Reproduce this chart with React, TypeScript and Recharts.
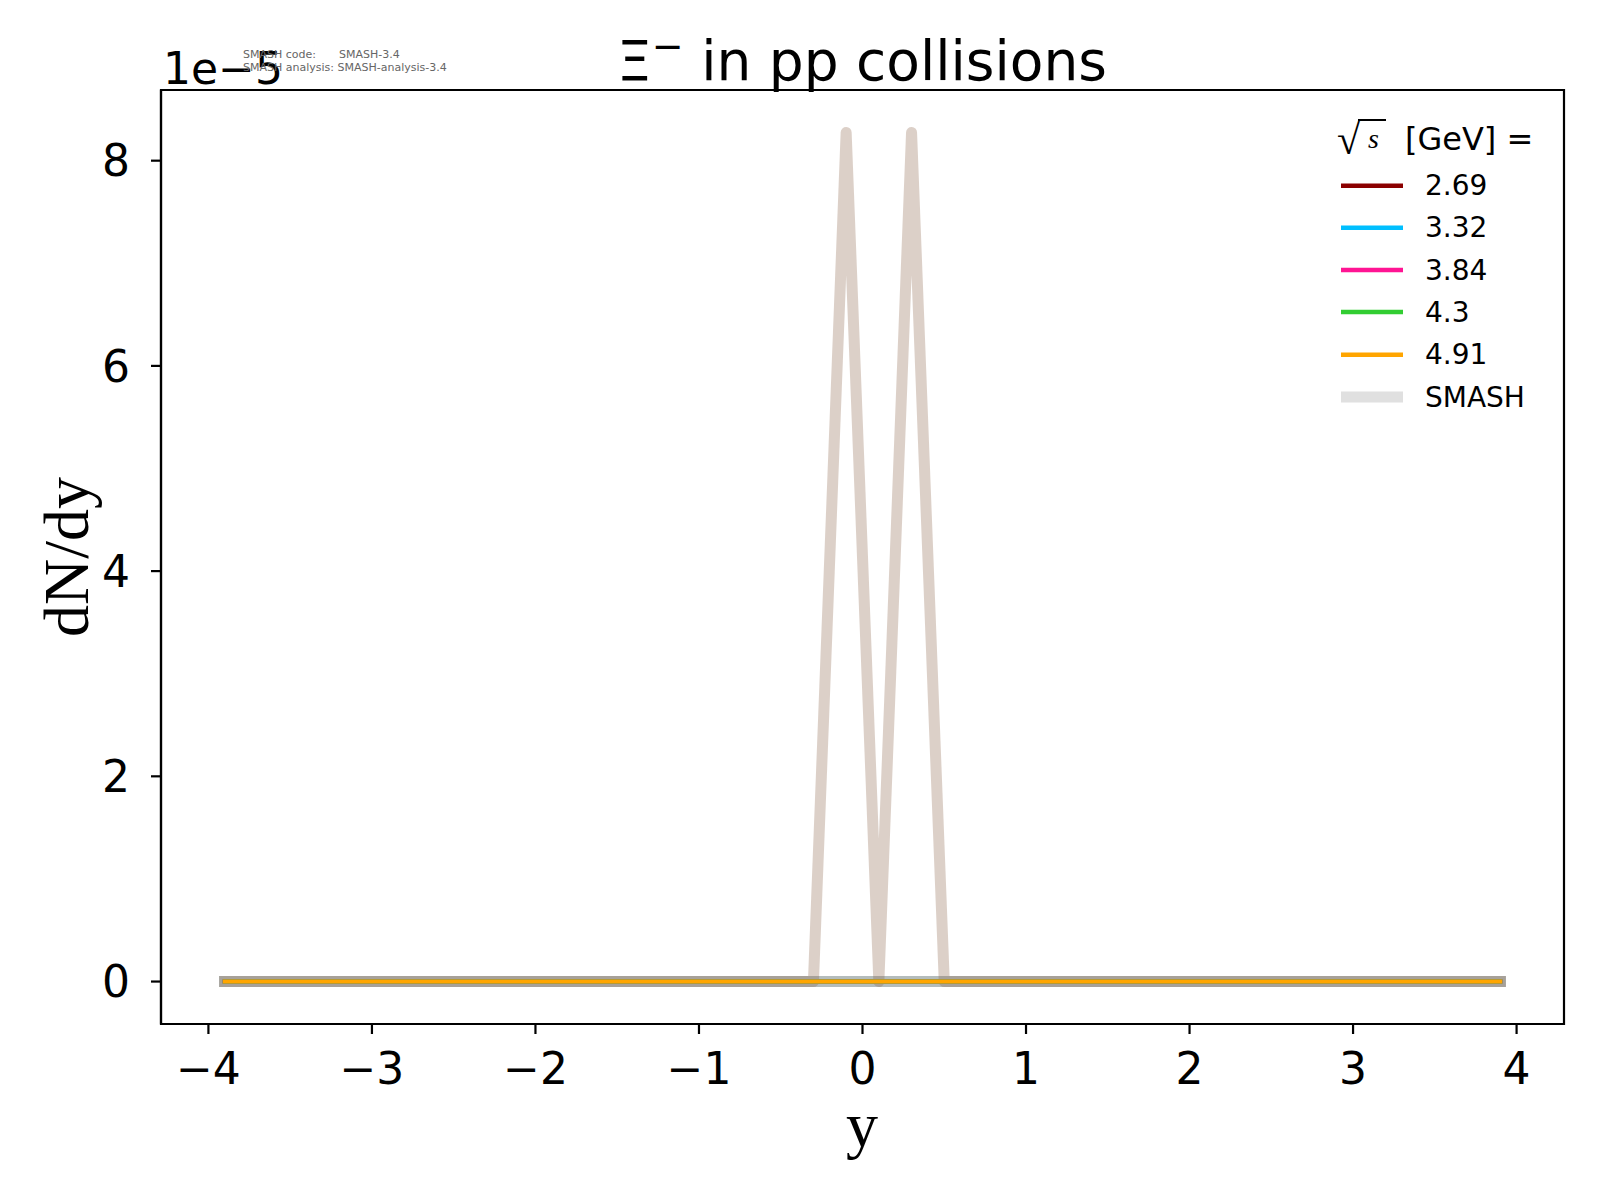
import React from "react";
import { LineChart, Line, XAxis, YAxis, ReferenceArea } from "recharts";

// rapidity bin centres
const Y_BINS = [-3.9, -3.7, -3.5, -3.3, -3.1, -2.9, -2.7, -2.5, -2.3, -2.1, -1.9, -1.7, -1.5, -1.3, -1.1, -0.9, -0.7, -0.5, -0.3, -0.1, 0.1, 0.3, 0.5, 0.7, 0.9, 1.1, 1.3, 1.5, 1.7, 1.9, 2.1, 2.3, 2.5, 2.7, 2.9, 3.1, 3.3, 3.5, 3.7, 3.9];

// SMASH dN/dy per energy
const SMASH_269 = [0, 0, 0, 0, 0, 0, 0, 0, 0, 0, 0, 0, 0, 0, 0, 0, 0, 0, 0, 0, 0, 0, 0, 0, 0, 0, 0, 0, 0, 0, 0, 0, 0, 0, 0, 0, 0, 0, 0, 0];
const SMASH_332 = [0, 0, 0, 0, 0, 0, 0, 0, 0, 0, 0, 0, 0, 0, 0, 0, 0, 0, 0, 0, 0, 0, 0, 0, 0, 0, 0, 0, 0, 0, 0, 0, 0, 0, 0, 0, 0, 0, 0, 0];
const SMASH_384 = [0, 0, 0, 0, 0, 0, 0, 0, 0, 0, 0, 0, 0, 0, 0, 0, 0, 0, 0, 0, 0, 0, 0, 0, 0, 0, 0, 0, 0, 0, 0, 0, 0, 0, 0, 0, 0, 0, 0, 0];
const SMASH_430 = [0, 0, 0, 0, 0, 0, 0, 0, 0, 0, 0, 0, 0, 0, 0, 0, 0, 0, 0, 0, 0, 0, 0, 0, 0, 0, 0, 0, 0, 0, 0, 0, 0, 0, 0, 0, 0, 0, 0, 0];
const SMASH_491 = [0, 0, 0, 0, 0, 0, 0, 0, 0, 0, 0, 0, 0, 0, 0, 0, 0, 0, 0, 8.275e-5, 0, 8.275e-5, 0, 0, 0, 0, 0, 0, 0, 0, 0, 0, 0, 0, 0, 0, 0, 0, 0, 0];

// reference (experimental) dN/dy per energy
const EXP_269 = [0, 0, 0, 0, 0, 0, 0, 0, 0, 0, 0, 0, 0, 0, 0, 0, 0, 0, 0, 0, 0, 0, 0, 0, 0, 0, 0, 0, 0, 0, 0, 0, 0, 0, 0, 0, 0, 0, 0, 0];
const EXP_332 = [0, 0, 0, 0, 0, 0, 0, 0, 0, 0, 0, 0, 0, 0, 0, 0, 0, 0, 0, 0, 0, 0, 0, 0, 0, 0, 0, 0, 0, 0, 0, 0, 0, 0, 0, 0, 0, 0, 0, 0];
const EXP_384 = [0, 0, 0, 0, 0, 0, 0, 0, 0, 0, 0, 0, 0, 0, 0, 0, 0, 0, 0, 0, 0, 0, 0, 0, 0, 0, 0, 0, 0, 0, 0, 0, 0, 0, 0, 0, 0, 0, 0, 0];
const EXP_430 = [0, 0, 0, 0, 0, 0, 0, 0, 0, 0, 0, 0, 0, 0, 0, 0, 0, 0, 0, 0, 0, 0, 0, 0, 0, 0, 0, 0, 0, 0, 0, 0, 0, 0, 0, 0, 0, 0, 0, 0];
const EXP_491 = [0, 0, 0, 0, 0, 0, 0, 0, 0, 0, 0, 0, 0, 0, 0, 0, 0, 0, 0, 0, 0, 0, 0, 0, 0, 0, 0, 0, 0, 0, 0, 0, 0, 0, 0, 0, 0, 0, 0, 0];

const ENERGY_LABELS = ["2.69", "3.32", "3.84", "4.3", "4.91"];
const ENERGY_COLORS = ["#8b0000", "#00bfff", "#ff1493", "#32cd32", "#ffa500"];
const X_TICKS = [-4, -3, -2, -1, 0, 1, 2, 3, 4];
const Y_TICKS = [0, 2e-5, 4e-5, 6e-5, 8e-5];
const X_DOMAIN = [-4.29, 4.29];
const Y_DOMAIN = [-0.41375e-5, 8.68875e-5];

const data = Y_BINS.map((y, i) => ({
  y,
  s269: SMASH_269[i],
  s332: SMASH_332[i],
  s384: SMASH_384[i],
  s430: SMASH_430[i],
  s491: SMASH_491[i],
  e269: EXP_269[i],
  e332: EXP_332[i],
  e384: EXP_384[i],
  e430: EXP_430[i],
  e491: EXP_491[i],
}));

const W = 1584;
const H = 1184;
const SANS = "DejaVu Sans";
const SERIF = "Liberation Serif";
const axisStyle = { stroke: "#000", strokeWidth: 2.2 };
const tickStyle = { fontSize: 44, fill: "#000", fontFamily: SANS };

const fmtX = (v: number) => (v < 0 ? "\u2212" + Math.abs(v) : String(v));
const fmtY = (v: number) => String(Math.round(v / 1e-5));

export default function App() {
  const smashZeroKeys = ["s269", "s332", "s384", "s430"];
  const expKeys = ["e269", "e332", "e384", "e430", "e491"];
  const rowY = [177.7, 219.7, 262, 304, 346.7];
  return (
    <div style={{ position: "relative", width: W, height: H, background: "#fff" }}>
      <LineChart
        width={W}
        height={H}
        data={data}
        margin={{ top: 82, right: 28, bottom: 108, left: 73 }}
      >
        <XAxis
          dataKey="y"
          type="number"
          domain={X_DOMAIN}
          ticks={X_TICKS}
          tickFormatter={fmtX}
          height={60}
          tickSize={10}
          tickMargin={19}
          axisLine={axisStyle}
          tickLine={axisStyle}
          tick={tickStyle}
          allowDataOverflow
        />
        <YAxis
          type="number"
          domain={Y_DOMAIN}
          ticks={Y_TICKS}
          tickFormatter={fmtY}
          width={80}
          tickSize={10}
          tickMargin={21}
          axisLine={axisStyle}
          tickLine={axisStyle}
          tick={tickStyle}
          allowDataOverflow
        />
        <ReferenceArea
          x1={X_DOMAIN[0]}
          x2={X_DOMAIN[1]}
          y1={Y_DOMAIN[0]}
          y2={Y_DOMAIN[1]}
          fill="none"
          fillOpacity={0}
          stroke="#000"
          strokeWidth={2.2}
          ifOverflow="visible"
        />
        {smashZeroKeys.map((k) => (
          <Line
            key={k}
            dataKey={k}
            stroke="#b4bcbc"
            strokeWidth={11}
            strokeLinecap="square"
            strokeLinejoin="round"
            dot={false}
            activeDot={false}
            isAnimationActive={false}
          />
        ))}
        <Line
          dataKey="s491"
          stroke="#8a6248"
          strokeOpacity={0.3}
          strokeWidth={11}
          strokeLinecap="square"
          strokeLinejoin="round"
          dot={false}
          activeDot={false}
          isAnimationActive={false}
        />
        {expKeys.map((k, i) => (
          <Line
            key={k}
            dataKey={k}
            stroke={ENERGY_COLORS[i]}
            strokeWidth={4}
            strokeLinecap="square"
            strokeLinejoin="round"
            dot={false}
            activeDot={false}
            isAnimationActive={false}
          />
        ))}
      </LineChart>
      <svg
        width={W}
        height={H}
        style={{ position: "absolute", left: 0, top: 0, pointerEvents: "none" }}
      >
        {/* title */}
        <text x={854} y={72} textAnchor="middle" fontFamily={SANS} fontSize={55} fill="#000">
          {"\u039E"}
          <tspan fontSize={38} dy={-21}>{"\u2212"}</tspan>
          <tspan dy={21}>{" in pp collisions"}</tspan>
        </text>
        {/* offset text */}
        <text x={155} y={76} fontFamily={SANS} fontSize={44} fill="#000">{"1e\u22125"}</text>
        {/* version info */}
        <text x={235} y={50} fontFamily={SANS} fontSize={11} fill="#666">SMASH code:</text>
        <text x={331} y={50} fontFamily={SANS} fontSize={11} fill="#666">SMASH-3.4</text>
        <text x={235} y={63} fontFamily={SANS} fontSize={11} fill="#666">SMASH analysis: SMASH-analysis-3.4</text>
        {/* axis labels */}
        <text x={854} y={1138} textAnchor="middle" fontFamily={SERIF} fontSize={64} fill="#000">y</text>
        <text
          x={0}
          y={0}
          transform="translate(80,549) rotate(-90)"
          textAnchor="middle"
          fontFamily={SERIF}
          fontSize={64}
          fill="#000"
        >
          dN/dy
        </text>
        {/* legend */}
        <text x={1329} y={146} fontFamily={SERIF} fontSize={42} fill="#000">{"\u221A"}</text>
        <line x1={1350} y1={112} x2={1378} y2={112} stroke="#000" strokeWidth={2} />
        <text x={1360} y={140} fontFamily={SERIF} fontStyle="italic" fontSize={28} fill="#000">s</text>
        <text x={1397} y={142} fontFamily={SANS} fontSize={32} fill="#000">[GeV] =</text>
        {ENERGY_LABELS.map((lab, i) => (
          <g key={lab}>
            <line x1={1333} y1={rowY[i]} x2={1395} y2={rowY[i]} stroke={ENERGY_COLORS[i]} strokeWidth={4.5} />
            <text x={1417} y={rowY[i]} dominantBaseline="central" fontFamily={SANS} fontSize={28} fill="#000">
              {lab}
            </text>
          </g>
        ))}
        <line x1={1333} y1={389} x2={1395} y2={389} stroke="#e0e0e0" strokeWidth={11} />
        <text x={1417} y={389} dominantBaseline="central" fontFamily={SANS} fontSize={28} fill="#000">
          SMASH
        </text>
      </svg>
    </div>
  );
}
